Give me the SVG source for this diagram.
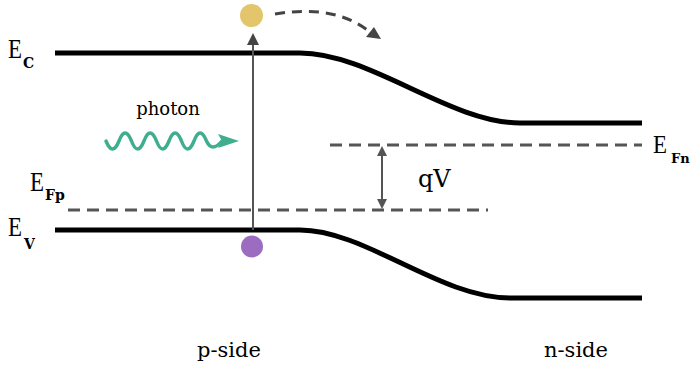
<svg xmlns="http://www.w3.org/2000/svg" width="693" height="368" viewBox="0 0 693 368">
<defs>
<style>
.band{fill:none;stroke:#000;stroke-width:5;stroke-linecap:butt}
.fermi{fill:none;stroke:#555;stroke-width:3;stroke-dasharray:12 7}
.lbl{font-family:"Liberation Serif","DejaVu Serif",serif;fill:#000}
.txt{font-family:"DejaVu Serif","Liberation Serif",serif;fill:#000}
.sub{font-family:"DejaVu Serif","Liberation Serif",serif;font-weight:bold;fill:#000}
</style>
<marker id="ah" viewBox="0 0 10 10" refX="9" refY="5" markerWidth="4" markerHeight="4" orient="auto-start-reverse"><path d="M0,0 L10,5 L0,10 z" fill="#555"/></marker>
</defs>
<rect width="693" height="368" fill="#fff"/>
<g id="bands">
<path class="band" d="M55,53 L300,53 C370,53 450,123 520,123 L642,123"/>
<path class="band" d="M55,230 L300,230 C365,230 440,298 510,298 L642,298"/>
</g>
<g id="fermi-levels">
<path class="fermi" d="M68,210 L488,210"/>
<path class="fermi" d="M330,145 L642,145"/>
</g>
<g id="connectors">
<line x1="253" y1="230" x2="253" y2="43" stroke="#555" stroke-width="2"/>
<polygon points="253,33 259,45 247,45" fill="#444"/>
<path d="M275,14 Q335,4 370,32" fill="none" stroke="#444" stroke-width="3" stroke-dasharray="10 7"/>
<polygon points="381,39 366,37 374,27" fill="#444"/>
<line x1="382" y1="150" x2="382" y2="205" stroke="#555" stroke-width="2"/>
<polygon points="382,146 387,156 377,156" fill="#555"/>
<polygon points="382,209 387,199 377,199" fill="#555"/>
</g>
<g id="photon">
<path d="M106,141 Q112.5,157 119,141 Q125,125 131.5,141 Q137.5,157 144,141 Q150,125 156.5,141 Q162.5,157 169,141 Q175,125 181.5,141 Q187.5,157 194,141 Q200,125 206.5,141 Q212,153 222,141" fill="none" stroke="#3fae8e" stroke-width="3.5" stroke-linecap="round"/>
<polygon points="218,134 239,141 218,148 222,141" fill="#3fae8e"/>
<text class="txt" x="168" y="115" font-size="18" text-anchor="middle">photon</text>
</g>
<g id="electron"><circle cx="251.5" cy="15.5" r="11.5" fill="#e3c66b"/></g>
<g id="hole"><circle cx="252" cy="246.5" r="11" fill="#9b6cc0"/></g>
<g id="label-Ec"><text class="lbl" x="8" y="58" font-size="27" textLength="14" lengthAdjust="spacingAndGlyphs">E</text><text class="sub" x="23" y="68" font-size="14">C</text></g>
<g id="label-Efp"><text class="lbl" x="30" y="191" font-size="27" textLength="14" lengthAdjust="spacingAndGlyphs">E</text><text class="sub" x="45" y="200" font-size="14">Fp</text></g>
<g id="label-Ev"><text class="lbl" x="8" y="236" font-size="27" textLength="14" lengthAdjust="spacingAndGlyphs">E</text><text class="sub" x="24" y="249" font-size="14">V</text></g>
<g id="label-Efn"><text class="lbl" x="653" y="153" font-size="25" textLength="14" lengthAdjust="spacingAndGlyphs">E</text><text class="sub" x="671" y="163" font-size="13">Fn</text></g>
<g id="label-qV"><text class="txt" x="418" y="187" font-size="24">qV</text></g>
<g id="label-p"><text class="txt" x="229" y="357" font-size="21" text-anchor="middle">p-side</text></g>
<g id="label-n"><text class="txt" x="576" y="357" font-size="21" text-anchor="middle">n-side</text></g>
</svg>
